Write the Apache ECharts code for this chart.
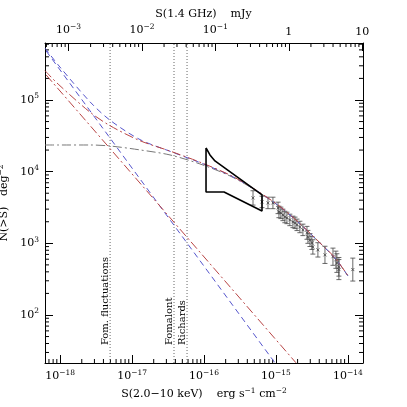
<!DOCTYPE html>
<html><head><meta charset="utf-8">
<script src="https://cdn.jsdelivr.net/npm/echarts@6/dist/echarts.min.js"></script>
<style>html,body{margin:0;padding:0;background:#fff}#c{width:407px;height:407px}</style>
</head><body><div id="c"></div>
<script>
// X-ray flux (erg s^-1 cm^-2) and N(>S) (deg^-2) of measured counts
const dataS = [4.8e-16,6.4e-16,7.75e-16,9.08e-16,1.07e-15,1.10e-15,1.17e-15,1.25e-15,1.33e-15,1.42e-15,1.56e-15,1.72e-15,1.84e-15,1.96e-15,2.15e-15,2.37e-15,2.70e-15,2.78e-15,2.97e-15,3.16e-15,3.26e-15,3.83e-15,4.80e-15,6.20e-15,6.81e-15,7.03e-15,7.50e-15,7.50e-15,1.17e-14];
const dataN = [4300,3780,3660,3660,3120,2740,2660,2490,2330,2260,2120,1990,1930,1810,1690,1540,1400,1230,1110,1010,890,810,690,650,590,530,470,430,430];
const dataErrDex = [0.10,0.08,0.08,0.08,0.08,0.08,0.08,0.08,0.08,0.08,0.08,0.08,0.08,0.08,0.08,0.08,0.09,0.09,0.09,0.09,0.1,0.1,0.12,0.12,0.12,0.13,0.13,0.14,0.16];
// "bow-tie" region
const boxS = [1.067e-16,1.21e-16,1.42e-16,6.4e-16,6.4e-16,1.9e-16,1.067e-16,1.067e-16];
const boxN = [21400,17100,14100,4730,2830,5210,5210,21400];
// flat component (dash-dot)
const flatS = [6.17e-19,9.38e-19,2.61e-18,4.94e-18,1.29e-17,3.37e-17,8.79e-17,2.30e-16,5.10e-16,1.14e-15,2.15e-15,4.08e-15,6.59e-15,1.0e-14];
const flatN = [23550,23550,23550,22800,20100,17100,12800,8710,5560,3220,1870,1010,625,351];
// steep power laws: endpoints
const blueS = [6.40e-19, 9.68e-16];
const blueN = [482000, 21.5];
const redS = [6.40e-19, 1.90e-15];
const redN = [223000, 21.5];
// vertical reference lines
const refNames = ['Fom. fluctuations','Fomalont','Richards'];
const refS = [4.95e-18, 3.83e-17, 5.81e-17];
// axis ranges
const xMin = Math.pow(10,-18.21), xMax = Math.pow(10,-13.79);
const tMin = Math.pow(10,-3.32), tMax = Math.pow(10,1.01);
const yMin = Math.pow(10,1.33), yMax = Math.pow(10,5.795);

const L = Math.log10;
function powLaw(S0,S1,N0,N1){ const a=(L(N1)-L(N0))/(L(S1)-L(S0)); return s=>Math.pow(10,L(N0)+a*(L(s)-L(S0))); }
const bluef = powLaw(blueS[0],blueS[1],blueN[0],blueN[1]);
const redf = powLaw(redS[0],redS[1],redN[0],redN[1]);
const combS = [xMin].concat(flatS);
const combFlat = [flatN[0]].concat(flatN);
const blueSum = combS.map((s,i)=>[s, bluef(s)+combFlat[i]]);
const redSum = combS.map((s,i)=>[s, redf(s)+combFlat[i]]);

const FONT = 'DejaVu Serif';
const rich = {b:{fontSize:11,fontFamily:FONT,color:'#000'}, s:{fontSize:7.5,fontFamily:FONT,color:'#000',padding:[0,0,7,0]}};
function expLabel(v){ const e=L(v); if(Math.abs(e-Math.round(e))>1e-3) return ''; const r=Math.round(e); return '{b|10}{s|'+(r<0?'−'+(-r):r)+'}'; }
function topLabel(v){ const e=L(v); if(Math.abs(e-Math.round(e))>1e-3) return ''; const r=Math.round(e); if(r===0) return '{b|1}'; if(r===1) return '{b|10}'; return expLabel(v); }

function minorTicks(lo,hi){ const out=[]; for(let d=Math.floor(L(lo));d<=Math.ceil(L(hi));d++) for(let k=2;k<=9;k++){ const v=k*Math.pow(10,d); if(v>lo&&v<hi) out.push(v);} return out; }

const ax = (o)=>Object.assign({type:'log',logBase:10,splitNumber:5,splitLine:{show:false},
  axisLine:{show:true,onZero:false,lineStyle:{color:'#000',width:1}},
  axisTick:{show:true,inside:true,length:8,lineStyle:{color:'#000'}},minorTick:{show:false}},o);

const option = {
  animation:false,
  grid:{left:45,right:44,top:43,bottom:44,outerBoundsMode:'none',containLabel:false},
  title:{text:'S(1.4 GHz)    mJy',left:'center',top:4,textStyle:{fontFamily:FONT,fontSize:11,fontWeight:'normal',color:'#000'}},
  xAxis:[
    ax({min:xMin,max:xMax,position:'bottom',axisLabel:{formatter:expLabel,rich,margin:6,hideOverlap:false},
      name:'S(2.0−10 keV)    erg s{s|−1} cm{s|−2}',nameLocation:'middle',nameGap:21,nameTextStyle:{fontFamily:FONT,fontSize:11,color:'#000',rich:{s:{fontSize:7.5,fontFamily:FONT,padding:[0,0,7,0]}}}}),
    ax({min:tMin,max:tMax,position:'top',axisLabel:{formatter:topLabel,rich,margin:5}})
  ],
  yAxis:[
    ax({min:yMin,max:yMax,position:'left',axisLabel:{formatter:expLabel,rich,margin:6},
      name:'N(>S)   deg{s|−2}',nameLocation:'middle',nameGap:27,nameTextStyle:{fontFamily:FONT,fontSize:11,color:'#000',rich:{s:{fontSize:7.5,fontFamily:FONT,padding:[0,0,6,0]}}}}),
    ax({min:yMin,max:yMax,position:'right',axisLabel:{show:false}})
  ],
  series:[
    {type:'custom',xAxisIndex:0,yAxisIndex:0,silent:true,data:[[xMin,yMin]],renderItem:(p,api)=>{
      const ch=[]; const st={stroke:'#000',lineWidth:1};
      const y0=api.coord([xMin,yMin])[1];
      const x0=api.coord([xMin,yMin])[0], x1=api.coord([xMax,yMin])[0];
      minorTicks(xMin,xMax).forEach(v=>{const x=api.coord([v,yMin])[0]; ch.push({type:'line',shape:{x1:x,y1:y0,x2:x,y2:y0-4},style:st});});
      minorTicks(yMin,yMax).forEach(v=>{const y=api.coord([xMin,v])[1]; ch.push({type:'line',shape:{x1:x0,y1:y,x2:x0+4,y2:y},style:st}); ch.push({type:'line',shape:{x1:x1,y1:y,x2:x1-4,y2:y},style:st});});
      return {type:'group',children:ch};
    }},
    {type:'custom',xAxisIndex:1,yAxisIndex:0,silent:true,data:[[tMin,yMin]],renderItem:(p,api)=>{
      const ch=[]; const y1=api.coord([tMin,yMax])[1];
      minorTicks(tMin,tMax).forEach(v=>{const x=api.coord([v,yMax])[0]; ch.push({type:'line',shape:{x1:x,y1:y1,x2:x,y2:y1+4},style:{stroke:'#000',lineWidth:1}});});
      return {type:'group',children:ch};
    }},
    ...refS.map(s=>({type:'line',symbol:'none',silent:true,data:[[s,yMin],[s,yMax]],lineStyle:{color:'#666',width:1,type:[1,2]}})),
    {type:'custom',silent:true,data:refS.map((s,i)=>[s,38]),renderItem:(p,api)=>{
      const c=api.coord([api.value(0),api.value(1)]);
      return {type:'text',x:c[0]-5,y:c[1],rotation:Math.PI/2,style:{text:refNames[p.dataIndex],fontFamily:FONT,fontSize:10,fill:'#000',align:'left',verticalAlign:'middle'}};
    }},
    {type:'line',symbol:'none',silent:true,data:blueS.map((s,i)=>[s,blueN[i]]),lineStyle:{color:'#5555cc',width:1,type:[6,4]}},
    {type:'line',symbol:'none',silent:true,data:redS.map((s,i)=>[s,redN[i]]),lineStyle:{color:'#b84444',width:1,type:[9,3,2,3]}},
    {type:'line',symbol:'none',smooth:0.3,silent:true,data:flatS.map((s,i)=>[s,flatN[i]]),lineStyle:{color:'#777',width:1,type:[9,3,2,3]}},
    {type:'line',symbol:'none',smooth:0.3,silent:true,data:blueSum,lineStyle:{color:'#5555cc',width:1,type:[6,4]}},
    {type:'line',symbol:'none',smooth:0.3,silent:true,data:redSum,lineStyle:{color:'#b84444',width:1,type:[9,3,2,3]}},
    {type:'line',symbol:'none',silent:true,data:boxS.map((s,i)=>[s,boxN[i]]),lineStyle:{color:'#000',width:1.6}},
    {type:'custom',silent:true,data:dataS.map((s,i)=>[s,dataN[i],dataErrDex[i]]),renderItem:(p,api)=>{
      const s=api.value(0),n=api.value(1),e=api.value(2);
      const c=api.coord([s,n]),hi=api.coord([s,n*Math.pow(10,e)]),lo=api.coord([s,n*Math.pow(10,-e)]);
      const st={stroke:'#444',lineWidth:0.8};
      return {type:'group',children:[
        {type:'line',shape:{x1:c[0],y1:hi[1],x2:c[0],y2:lo[1]},style:st},
        {type:'line',shape:{x1:c[0]-2.5,y1:hi[1],x2:c[0]+2.5,y2:hi[1]},style:st},
        {type:'line',shape:{x1:c[0]-2.5,y1:lo[1],x2:c[0]+2.5,y2:lo[1]},style:st},
        {type:'line',shape:{x1:c[0]-1.5,y1:c[1]-1.5,x2:c[0]+1.5,y2:c[1]+1.5},style:st},
        {type:'line',shape:{x1:c[0]-1.5,y1:c[1]+1.5,x2:c[0]+1.5,y2:c[1]-1.5},style:st}
      ]};
    }}
  ]
};
const chart = echarts.init(document.getElementById('c'),null,{renderer:'canvas'});
chart.setOption(option);
</script></body></html>
